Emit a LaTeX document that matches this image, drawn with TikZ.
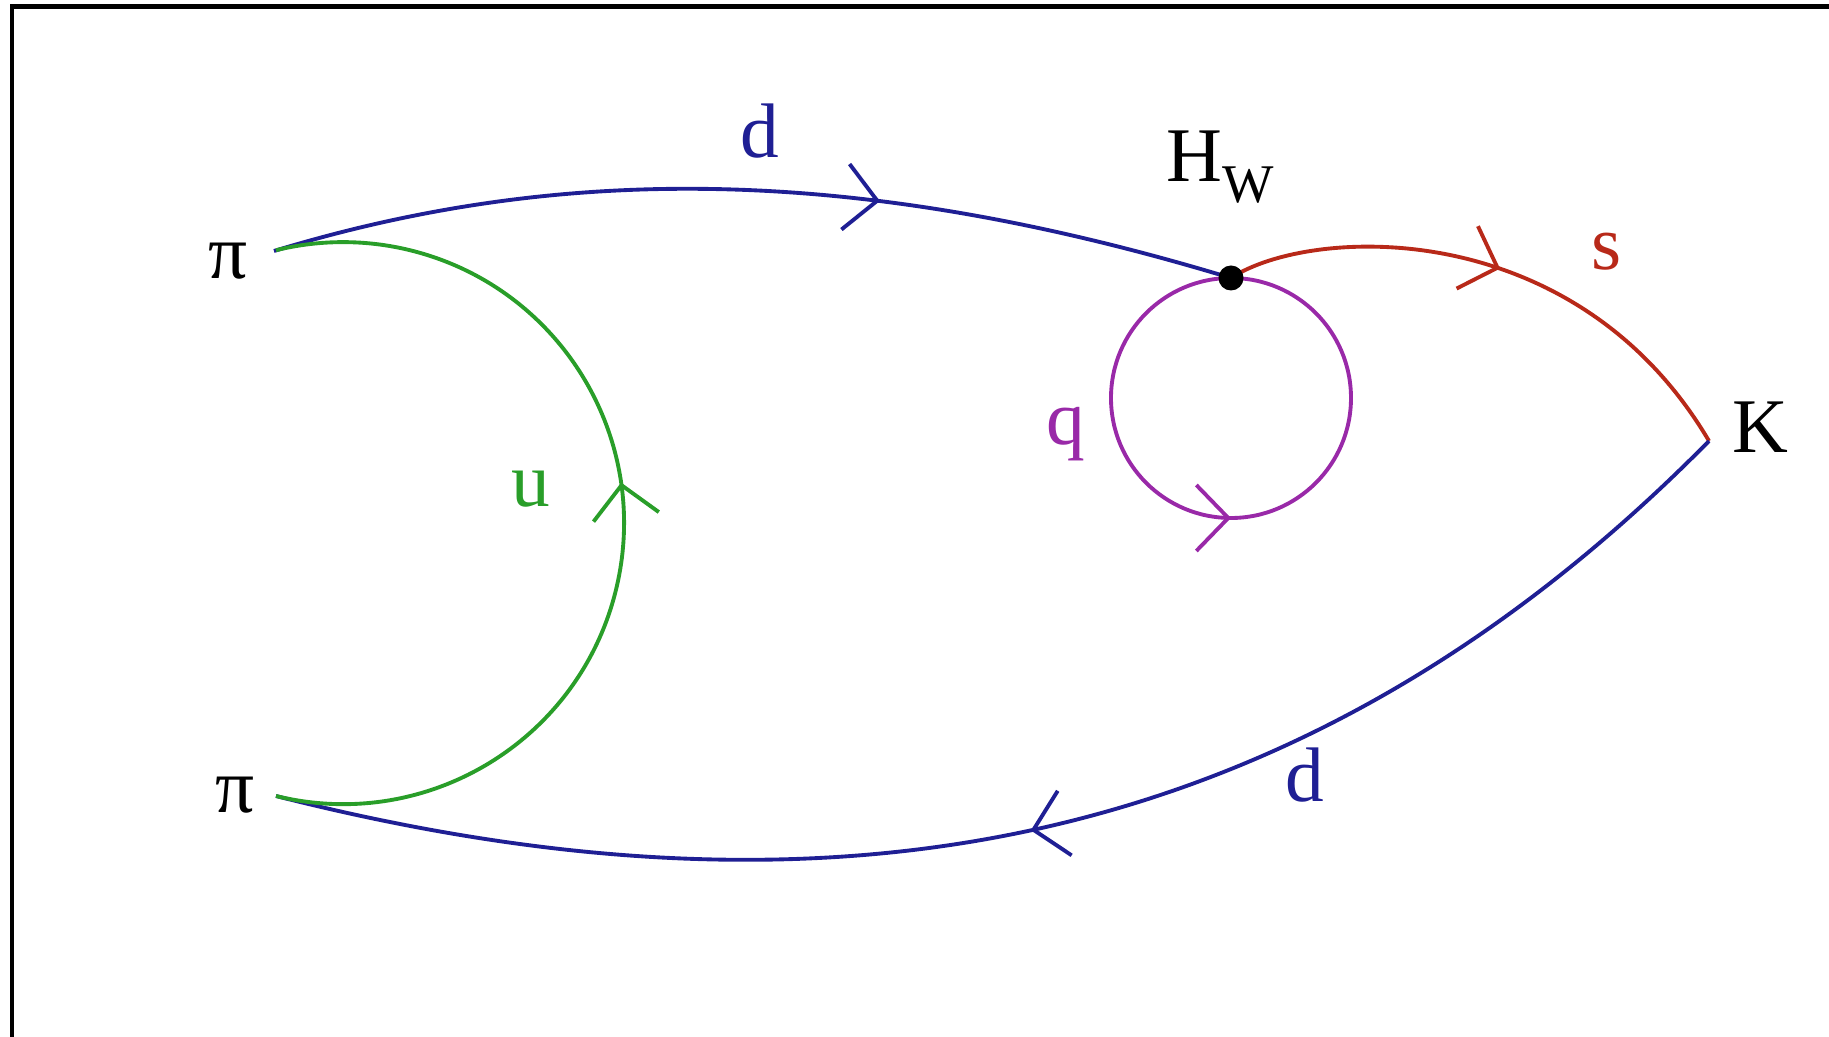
\documentclass[tikz,border=0pt]{standalone}
\usepackage{fontspec}
\setmainfont{Liberation Serif}
\usepackage{tikz}
\usetikzlibrary{arrows.meta,decorations.markings}
\definecolor{quarkblue}{rgb}{0.12, 0.12, 0.58}
\definecolor{quarkgreen}{rgb}{0.16, 0.62, 0.16}
\definecolor{quarkred}{rgb}{0.72, 0.16, 0.10}
\definecolor{quarkpurple}{rgb}{0.60, 0.16, 0.66}
\tikzset{
  linea/.style={
    line width=1.1pt
  },
  flecha/.style={
    postaction={decorate},
    decoration={
      markings,
      mark=at position #1 with {\arrow{Straight Barb[length=3.2mm,width=6.6mm]}}
    }
  },
  etiqueta/.style={
    inner sep=0pt,
    anchor=base,
    font=\fontsize{22}{26}\selectfont
  },
  vertice/.style={
    circle,
    fill=black,
    inner sep=0pt,
    minimum size=2.5mm
  }
}

\begin{document}
\begin{tikzpicture}
\useasboundingbox (0,0) rectangle (18.29,-10.37);
% marco
\draw[line width=1.3pt] (0.12,-10.37) |- (18.29,-0.065);

\coordinate (piA) at (2.74,-2.51);
\coordinate (piB) at (2.76,-7.96);
\coordinate (K) at (17.09,-4.41);
\coordinate (HW) at (12.31,-2.78);

\draw[linea, quarkblue, flecha=0.63] (piA) .. controls (5.6,-1.64) and (8.55,-1.64) .. (HW);
\draw[linea, quarkred, flecha=0.5] (HW) .. controls (13.1,-2.26) and (15.75,-2.14) .. (K);
\draw[linea, quarkblue, flecha=0.51] (K) .. controls (12.89,-8.67) and (8.12,-9.32) .. (piB);
\draw[linea, quarkgreen, flecha=0.54] (piB) arc[start angle=-103.8, end angle=103.8, radius=2.81];
\draw[linea, quarkpurple, flecha=0.5] (HW) arc[start angle=90, end angle=450, radius=1.2];
\node[vertice] (punto) at (HW) {};

\node[etiqueta] (piAlbl) at (2.28,-2.79) {π};
\node[etiqueta] (piBlbl) at (2.35,-8.13) {π};
\node[etiqueta, anchor=base west] (HWlbl) at (11.66,-1.82) {H\raisebox{-5.7pt}{\fontsize{15.5}{18}\selectfont W}};
\node[etiqueta, quarkblue] (dA) at (7.60,-1.58) {d};
\node[etiqueta, quarkred] (s) at (16.07,-2.70) {s};
\node[etiqueta] (Klbl) at (17.60,-4.53) {K};
\node[etiqueta, quarkpurple] (q) at (10.66,-4.45) {q};
\node[etiqueta, quarkgreen] (u) at (5.31,-5.07) {u};
\node[etiqueta, quarkblue] (dB) at (13.05,-8.02) {d};
\end{tikzpicture}
\end{document}
